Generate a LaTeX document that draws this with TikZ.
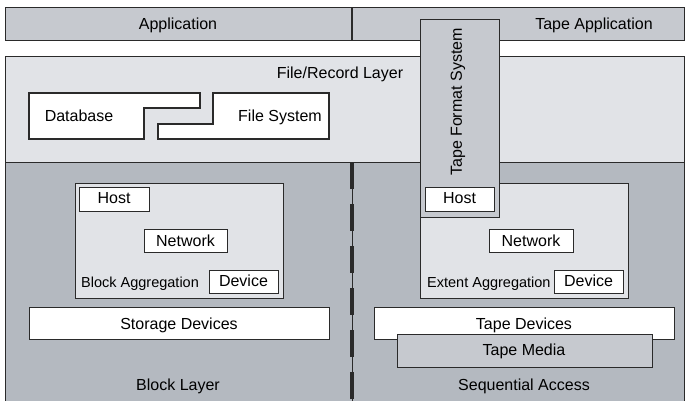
\documentclass[tikz,border=0pt]{standalone}
\usepackage{fontspec}
\setmainfont{Liberation Sans}
\definecolor{bargray}{HTML}{C6C9CF}
\definecolor{layergray}{HTML}{E1E3E7}
\definecolor{basegray}{HTML}{B4B9C0}
\definecolor{edge}{HTML}{2A2A2A}
\tikzset{
  frame/.style={draw=edge, line width=1.2pt},
  panel/.style={frame, inner sep=0pt, anchor=north west},
  whitebox/.style={panel, fill=white},
  label/.style={inner sep=0pt, anchor=base, font=\fontsize{16}{19}\selectfont},
  smalllabel/.style={inner sep=0pt, anchor=base west, font=\fontsize{14.5}{17}\selectfont},
}
\begin{document}
\begin{tikzpicture}[x=1pt, y=-1pt]
\useasboundingbox (0,0) rectangle (688,400);

% application bar
\node[panel, fill=bargray, minimum width=679pt, minimum height=33pt] (appbar) at (5,7) {};
\draw[frame] (352,7) -- (352,40);
\node[label] (app) at (178,29.3) {Application};
\node[label] (tapeapp) at (594,29.3) {Tape Application};

% file/record layer
\node[panel, fill=layergray, minimum width=679pt, minimum height=106pt] (filelayer) at (5,56) {};
\node[label] (filelabel) at (340,78.3) {File/Record Layer};

% database and file system interlocking shapes
\draw[frame, fill=white] (29,93) -- (200,93) -- (200,108) -- (144,108) -- (144,139) -- (29,139) -- cycle;
\draw[frame, fill=white] (213,93) -- (329,93) -- (329,139) -- (158,139) -- (158,124) -- (213,124) -- cycle;
\node[label] (db) at (79,121.7) {Database};
\node[label] (fs) at (280,121.7) {File System};

% lower block / sequential region
\node[panel, fill=basegray, minimum width=679pt, minimum height=245pt] (lower) at (5,162) {};
\coordinate (divtop) at (352,162);
\coordinate (divbot) at (352,402);
\draw[edge, line width=0.8pt] (divtop) -- (divbot);
\draw[edge, line width=3.5pt, dash pattern=on 27pt off 15pt] (divtop) -- (divbot);

% block aggregation
\node[panel, fill=layergray, minimum width=208pt, minimum height=115pt] (blockagg) at (75,183) {};
\node[whitebox, minimum width=70pt, minimum height=24pt] (hostL) at (79,187) {};
\node[label] at (114,203.5) {Host};
\node[whitebox, minimum width=83pt, minimum height=23pt] (netL) at (144,229) {};
\node[label] at (185.5,246) {Network};
\node[whitebox, minimum width=69pt, minimum height=23pt] (devL) at (209,270) {};
\node[label] at (243.5,286.5) {Device};
\node[smalllabel] (blockagglabel) at (81,287.3) {Block Aggregation};

\node[whitebox, minimum width=300pt, minimum height=32pt] (storage) at (29,307) {};
\node[label] at (179,329.3) {Storage Devices};
\node[label] (blocklayer) at (178,390) {Block Layer};

% extent aggregation
\node[panel, fill=layergray, minimum width=208pt, minimum height=115pt] (extagg) at (420,183) {};
\node[whitebox, minimum width=84pt, minimum height=23pt] (netR) at (489,229) {};
\node[label] at (531,246) {Network};
\node[whitebox, minimum width=69pt, minimum height=23pt] (devR) at (554,270) {};
\node[label] at (588.5,286.5) {Device};
\node[smalllabel] (extagglabel) at (427,287.3) {Extent Aggregation};

\node[whitebox, minimum width=300pt, minimum height=32pt] (tapedev) at (374,307) {};
\node[label] at (524,329.3) {Tape Devices};
\node[panel, fill=bargray, minimum width=255pt, minimum height=33pt] (tapemedia) at (397,334) {};
\node[label] at (524,355.7) {Tape Media};
\node[label] (seqlabel) at (524,390) {Sequential Access};

% tape format system column
\node[panel, fill=bargray, minimum width=79pt, minimum height=198pt] (tfs) at (420,19) {};
\node[inner sep=0pt, font=\fontsize{16}{19}\selectfont, rotate=90] (tfslabel) at (458,102) {Tape Format System};
\node[whitebox, minimum width=69pt, minimum height=24pt] (hostR) at (425,187) {};
\node[label] at (459.5,203.5) {Host};
\end{tikzpicture}
\end{document}
